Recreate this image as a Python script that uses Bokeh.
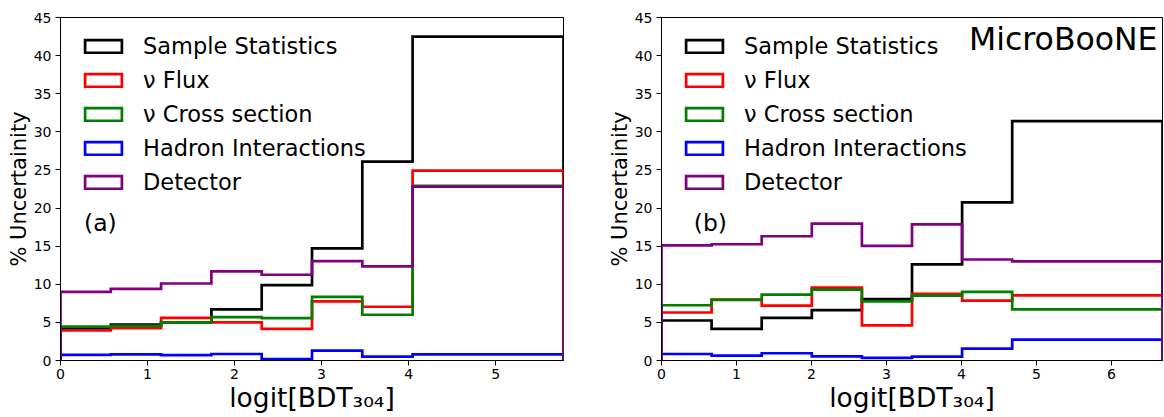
import numpy as np
from bokeh.plotting import figure
from bokeh.layouts import row
from bokeh.models import Legend, LegendItem, Label, FixedTicker, Range1d
from bokeh.embed import file_html
from bokeh.resources import INLINE

FONT = "DejaVu Sans"

series_labels = ["Sample Statistics", "ν Flux", "ν Cross section",
                 "Hadron Interactions", "Detector"]
series_colors = ["black", "red", "green", "blue", "purple"]

# ---- panel (a) ----
bin_edges_a = [0.0, 0.578, 1.156, 1.734, 2.312, 2.890, 3.468, 4.046, 5.780]
stat_a = [4.3, 4.7, 5.0, 6.7, 9.9, 14.7, 26.1, 42.5]
flux_a = [3.95, 4.25, 5.6, 5.0, 4.15, 7.75, 7.05, 24.9]
xsec_a = [4.45, 4.55, 5.0, 5.7, 5.55, 8.35, 6.0, 22.9]
hadron_a = [0.75, 0.8, 0.7, 0.85, 0.2, 1.3, 0.5, 0.8]
detector_a = [9.0, 9.4, 10.1, 11.7, 11.25, 13.05, 12.35, 22.8]
xticks_a = [0, 1, 2, 3, 4, 5]

# ---- panel (b) ----
bin_edges_b = [0.0, 0.668, 1.336, 2.004, 2.672, 3.340, 4.008, 4.676, 6.680]
stat_b = [5.25, 4.15, 5.6, 6.6, 8.05, 12.6, 20.75, 31.4]
flux_b = [6.3, 8.0, 7.2, 9.55, 4.6, 8.75, 7.85, 8.55]
xsec_b = [7.25, 7.95, 8.65, 9.3, 7.75, 8.5, 9.0, 6.7]
hadron_b = [0.85, 0.65, 0.95, 0.55, 0.35, 0.5, 1.55, 2.75]
detector_b = [15.1, 15.25, 16.3, 17.95, 15.05, 17.85, 13.25, 13.0]
xticks_b = [0, 1, 2, 3, 4, 5, 6]

yticks = [0, 5, 10, 15, 20, 25, 30, 35, 40, 45]
y_label = "% Uncertainity"
x_label = "logit[BDT₃₀₄]"

LW = 2.7
H = 416
TOP = 17
BOTTOM = 56


def make_panel(edges, series, xticks, width, b_left, b_right, tag, tag_x, brand):
    edges = np.asarray(edges, dtype=float)
    p = figure(width=width, height=H,
               x_range=Range1d(edges[0], edges[-1]), y_range=Range1d(0, 45),
               output_backend="svg", toolbar_location=None,
               min_border_left=b_left, min_border_right=b_right,
               min_border_top=TOP, min_border_bottom=BOTTOM)
    p.background_fill_color = "white"
    p.border_fill_color = "white"
    p.outline_line_color = "black"
    p.outline_line_width = 1
    p.outline_line_alpha = 1
    p.xgrid.visible = False
    p.ygrid.visible = False

    items = []
    for vals, col, lab in zip(series, series_colors, series_labels):
        vals = np.asarray(vals, dtype=float)
        xs = np.repeat(edges, 2)
        ys = np.concatenate([[0.0], np.repeat(vals, 2), [0.0]])
        p.line(xs, ys, line_color=col, line_width=LW, line_join="miter")
        q = p.quad(left=edges[:-1], right=edges[1:], bottom=0, top=vals,
                   fill_color=None, line_color=col, line_width=LW,
                   line_join="miter")
        q.visible = False
        items.append(LegendItem(label=lab, renderers=[q]))

    leg = Legend(items=items, location=(20, 165))
    leg.label_text_font = FONT
    leg.label_text_font_size = "22.5px"
    leg.label_text_color = "black"
    leg.glyph_width = 46
    leg.glyph_height = 16
    leg.label_standoff = 17
    leg.label_height = 27
    leg.spacing = 7
    leg.padding = 0
    leg.margin = 0
    leg.border_line_color = None
    leg.background_fill_alpha = 0
    leg.click_policy = "none"
    p.add_layout(leg, "center")

    for ax in (p.xaxis[0], p.yaxis[0]):
        ax.major_label_text_font = FONT
        ax.major_label_text_font_size = "14px"
        ax.major_label_text_color = "black"
        ax.axis_label_text_font = FONT
        ax.axis_label_text_font_style = "normal"
        ax.axis_label_text_color = "black"
        ax.axis_line_color = "black"
        ax.major_tick_line_color = "black"
        ax.major_tick_in = 0
        ax.major_tick_out = 5
        ax.minor_tick_line_color = None
        ax.axis_label_standoff = 0
    p.xaxis[0].major_label_standoff = 3
    p.yaxis[0].major_label_standoff = 4

    p.xaxis[0].ticker = FixedTicker(ticks=xticks)
    p.yaxis[0].ticker = FixedTicker(ticks=yticks)
    p.xaxis[0].axis_label = x_label
    p.xaxis[0].axis_label_text_font_size = "26.5px"
    p.yaxis[0].axis_label = y_label
    p.yaxis[0].axis_label_text_font_size = "21px"

    p.add_layout(Label(x=tag_x, y=18.1, text=tag, text_font=FONT,
                       text_font_size="23.5px", text_baseline="middle",
                       text_color="black"))
    if brand:
        p.add_layout(Label(x=edges[-1], y=45, x_offset=-5, y_offset=-21,
                           text="MicroBooNE", text_font=FONT,
                           text_font_size="31.5px", text_align="right",
                           text_baseline="alphabetic", text_color="black"))
    return p


pa = make_panel(bin_edges_a, [stat_a, flux_a, xsec_a, hadron_a, detector_a],
                xticks_a, 583, 60, 20, "(a)", 0.27, False)
pb = make_panel(bin_edges_b, [stat_b, flux_b, xsec_b, hadron_b, detector_b],
                xticks_b, 580, 78, 1, "(b)", 0.43, True)

layout = row(pa, pb, spacing=0)
open("out.html", "w").write(file_html(layout, INLINE))
